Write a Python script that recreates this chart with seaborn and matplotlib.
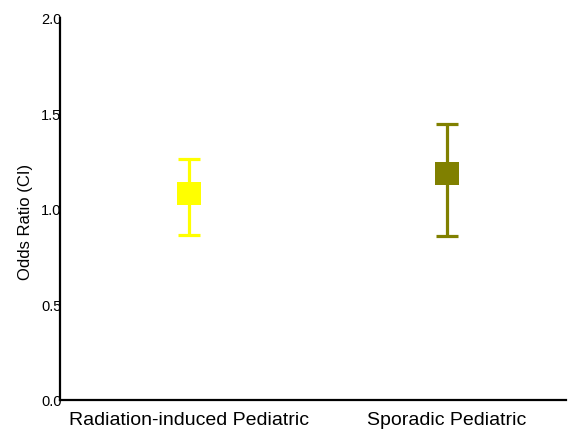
import matplotlib
matplotlib.use("Agg")
import matplotlib.pyplot as plt
import seaborn as sns
import pandas as pd

# data
groups = ["Radiation-induced Pediatric", "Sporadic Pediatric"]
group_pos = [1.02, 3.06]
odds_ratio = [1.08, 1.185]
ci_low = [0.865, 0.857]
ci_high = [1.262, 1.445]
colors = ["#FFFF00", "#808000"]

df = pd.DataFrame({"group": groups, "x": group_pos, "or": odds_ratio,
                   "lo": ci_low, "hi": ci_high})

sns.set_style("white")
plt.rcParams["font.family"] = ["Liberation Sans", "DejaVu Sans"]
plt.rcParams["text.color"] = "black"
plt.rcParams["axes.labelcolor"] = "black"
plt.rcParams["xtick.color"] = "black"
plt.rcParams["ytick.color"] = "black"

fig = plt.figure(figsize=(5.73, 4.31), dpi=100)
ax = fig.add_axes([60 / 573, 30 / 431, 506 / 573, 382 / 431])

for _, r in df.iterrows():
    c = colors[groups.index(r["group"])]
    ax.errorbar(r["x"], r["or"], yerr=[[r["or"] - r["lo"]], [r["hi"] - r["or"]]],
                fmt="none", ecolor=c, elinewidth=2.3, capsize=8, capthick=2.3, zorder=2)

sns.scatterplot(data=df, x="x", y="or", hue="group", palette=colors, marker="s",
                s=280, edgecolor="none", legend=False, ax=ax, zorder=3)

ax.set_xlim(0, 4)
ax.set_ylim(0, 2.0)
ax.set_yticks([0.0, 0.5, 1.0, 1.5, 2.0])
ax.set_yticklabels(["0.0", "0.5", "1.0", "1.5", "2.0"], fontsize=10.5)
ax.tick_params(axis="y", length=0, pad=-1)
ax.set_xticks(group_pos)
ax.set_xticklabels(groups, fontsize=14)
ax.tick_params(axis="x", length=0, pad=8)
ax.set_xticks([1, 2, 3], minor=True)
ax.tick_params(axis="x", which="minor", direction="in", length=3, width=0.8, color="#555555")
ax.set_xlabel("")
ax.set_ylabel("Odds Ratio (CI)", fontsize=12)
ax.yaxis.set_label_coords(-0.053, 0.47)

sns.despine(ax=ax)
for s in ["left", "bottom"]:
    ax.spines[s].set_color("black")
    ax.spines[s].set_linewidth(1.6)

fig.savefig("out.png", dpi=100)
